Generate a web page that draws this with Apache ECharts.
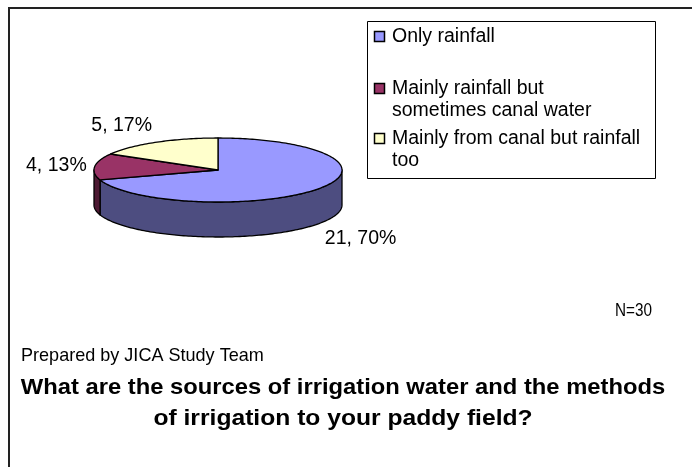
<!DOCTYPE html>
<html>
<head>
<meta charset="utf-8">
<script src="https://cdn.jsdelivr.net/npm/echarts@6/dist/echarts.min.js"></script>
<style>
  html, body { margin: 0; padding: 0; background: #fff; }
  #chart { width: 692px; height: 467px; }
</style>
</head>
<body>
<div id="chart"></div>
<script>
// Survey answers: irrigation water sources (N = 30)
const categories = [
  'Only rainfall',
  'Mainly rainfall but sometimes canal water',
  'Mainly from canal but rainfall too'
];
const legendLines = [
  ['Only rainfall'],
  ['Mainly rainfall but', 'sometimes canal water'],
  ['Mainly from canal but rainfall', 'too']
];
const counts = [21, 4, 5];
const topColors = ['#9999FF', '#993366', '#FFFFCC'];
const sideColors = ['#4D4D80', '#4D1A33', '#80805F'];

const total = counts.reduce((a, b) => a + b, 0);
const FONT = '"Liberation Sans", Arial, sans-serif';

// Elliptical pie geometry (tilted disc)
const cx = 218, cy = 170, rx = 124, ry = 32, depth = 35;

function pt(theta, dy) {
  return [cx + rx * Math.cos(theta), cy + ry * Math.sin(theta) + dy];
}
function arc(a, b, dy) {
  const n = Math.max(2, Math.ceil(Math.abs(b - a) / 0.02));
  const out = [];
  for (let k = 0; k <= n; k++) out.push(pt(a + (b - a) * k / n, dy));
  return out;
}

// Angles run clockwise on screen, starting at 12 o'clock
function sliceAngles(i) {
  let before = 0;
  for (let k = 0; k < i; k++) before += counts[k];
  const t1 = -Math.PI / 2 + 2 * Math.PI * before / total;
  const t2 = t1 + 2 * Math.PI * counts[i] / total;
  return [t1, t2];
}

function makeRender(i) {
  return function (params, api) {
    const v = api.value(0);
    const [t1, t2] = sliceAngles(i);
    const children = [];
    // front wall: visible where the rim faces the viewer (0..PI)
    const a = Math.max(t1, 0), b = Math.min(t2, Math.PI);
    if (b > a) {
      const pts = arc(a, b, 0).concat(arc(b, a, depth));
      children.push({
        type: 'polygon',
        shape: { points: pts },
        style: { fill: sideColors[i], stroke: '#000', lineWidth: 1.3, lineJoin: 'round' }
      });
    }
    // top face
    const top = [[cx, cy]].concat(arc(t1, t2, 0));
    children.push({
      type: 'polygon',
      shape: { points: top },
      style: { fill: topColors[i], stroke: '#000', lineWidth: 1.3, lineJoin: 'round' }
    });
    // data label "count, percent"
    const mid = (t1 + t2) / 2;
    const c = Math.cos(mid), s = Math.sin(mid);
    const anchor = pt(mid, s > 0 ? depth : 0);
    const gap = 8;
    children.push({
      type: 'text',
      x: anchor[0] + gap * c,
      y: anchor[1] + gap * s,
      style: {
        text: v + ', ' + Math.round(v / total * 100) + '%',
        font: '19.5px ' + FONT,
        fill: '#000',
        align: c < -0.2 ? 'right' : (c > 0.2 ? 'left' : 'center'),
        verticalAlign: s < -0.3 ? 'bottom' : (s > 0.3 ? 'top' : 'middle')
      }
    });
    return { type: 'group', children: children };
  };
}

const series = categories.map((name, i) => ({
  type: 'custom',
  name: name,
  coordinateSystem: 'none',
  silent: true,
  data: [[counts[i]]],
  renderItem: makeRender(i)
}));

// Legend box
const legendX = 367, legendY = 21, legendW = 288, legendH = 157;
const legendEls = [{
  type: 'rect',
  shape: { x: legendX + 0.5, y: legendY + 0.5, width: legendW, height: legendH },
  style: { fill: '#fff', stroke: '#000', lineWidth: 1 }
}];
const itemTops = [37, 89, 139];
legendLines.forEach((lines, i) => {
  legendEls.push({
    type: 'rect',
    shape: { x: 374.5, y: itemTops[i] - 5.5, width: 10, height: 10 },
    style: { fill: topColors[i], stroke: '#000', lineWidth: 1.5 }
  });
  legendEls.push({
    type: 'text',
    x: 392, y: itemTops[i] - 11,
    style: {
      text: lines.join('\n'),
      font: '19.5px ' + FONT,
      lineHeight: 22,
      fill: '#000',
      verticalAlign: 'top'
    }
  });
});

const graphic = [
  // chart frame
  { type: 'polyline', shape: { points: [[9, 467], [9, 8], [692, 8]] },
    style: { stroke: '#222', lineWidth: 2, fill: null } },
  ...legendEls,
  { type: 'text', x: 652, y: 311, scaleX: 0.85,
    style: { text: 'N=30', font: '18px ' + FONT, fill: '#000', align: 'right', verticalAlign: 'middle' } },
  { type: 'text', x: 21, y: 356, scaleX: 0.95,
    style: { text: 'Prepared by JICA Study Team', font: '19px ' + FONT, fill: '#000', verticalAlign: 'middle' } },
  { type: 'text', x: 343, y: 388, scaleX: 1.08,
    style: { text: 'What are the sources of irrigation water and the methods', font: 'bold 22px ' + FONT, fill: '#000', align: 'center', verticalAlign: 'middle' } },
  { type: 'text', x: 343, y: 419, scaleX: 1.12,
    style: { text: 'of irrigation to your paddy field?', font: 'bold 22px ' + FONT, fill: '#000', align: 'center', verticalAlign: 'middle' } }
];

const chart = echarts.init(document.getElementById('chart'), null, { renderer: 'canvas' });
chart.setOption({
  animation: false,
  backgroundColor: '#fff',
  series: series,
  graphic: graphic
});
</script>
</body>
</html>
